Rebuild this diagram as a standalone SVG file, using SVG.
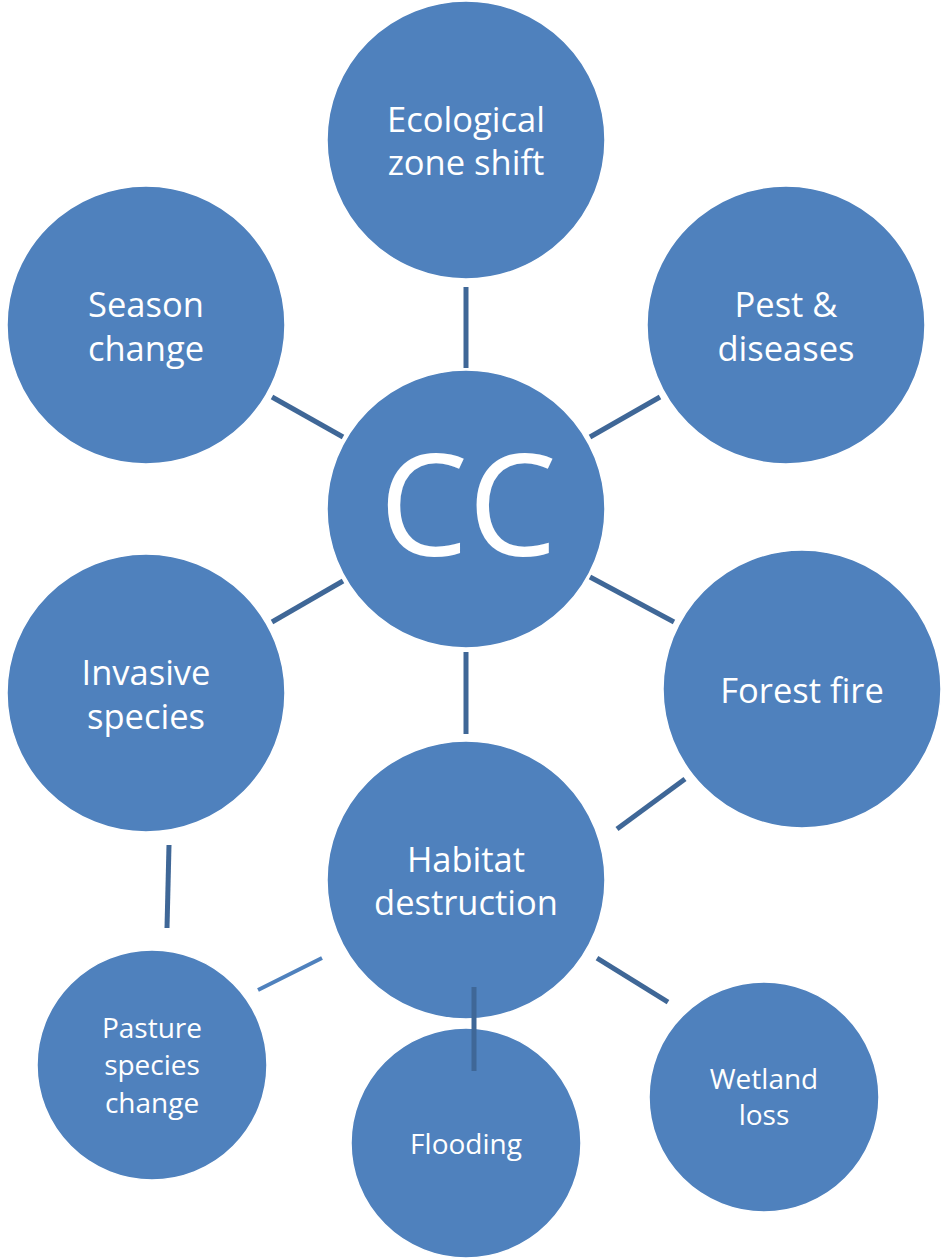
<svg xmlns="http://www.w3.org/2000/svg" width="943" height="1259" viewBox="0 0 943 1259">
<style>
.n{fill:#4F81BD;stroke:#ffffff;stroke-width:1.5}
.t{fill:#ffffff;font-family:"Open Sans","Lato",sans-serif;text-anchor:middle;dominant-baseline:central}
.l{font-size:34.5px}
.s{font-size:28px}
.c{stroke:#3F6797;stroke-width:5;fill:none}
</style>
<rect width="943" height="1259" fill="#ffffff"/>
<g id="n-eco"><circle class="n" cx="466" cy="140" r="139"/><text class="t l" x="466" y="118">Ecological</text><text class="t l" x="466" y="161">zone shift</text></g>
<g id="n-season"><circle class="n" cx="146" cy="325" r="139"/><text class="t l" x="146" y="303">Season</text><text class="t l" x="146" y="347">change</text></g>
<g id="n-pest"><circle class="n" cx="786" cy="325" r="139"/><text class="t l" x="786" y="303">Pest &amp;</text><text class="t l" x="786" y="347">diseases</text></g>
<g id="n-invasive"><circle class="n" cx="146" cy="693" r="139"/><text class="t l" x="146" y="671">Invasive</text><text class="t l" x="146" y="715">species</text></g>
<g id="n-fire"><circle class="n" cx="802" cy="689" r="139"/><text class="t l" x="802" y="689">Forest fire</text></g>
<g id="n-pasture"><circle class="n" cx="152" cy="1065" r="115"/><text class="t s" x="152" y="1027">Pasture</text><text class="t s" x="152" y="1064">species</text><text class="t s" x="152" y="1102">change</text></g>
<g id="n-wetland"><circle class="n" cx="764" cy="1097" r="115"/><text class="t s" x="764" y="1078">Wetland</text><text class="t s" x="764" y="1114">loss</text></g>
<g id="n-flood"><circle class="n" cx="466" cy="1143" r="115"/><text class="t s" x="466" y="1143">Flooding</text></g>
<g id="n-habitat"><circle class="n" cx="466" cy="880" r="139"/><text class="t l" x="466" y="858">Habitat</text><text class="t l" x="466" y="901">destruction</text></g>
<g id="n-cc"><circle class="n" cx="466" cy="509" r="139"/><text class="t" x="468" y="501" style="font-size:141px">CC</text></g>
<g id="connectors">
<line class="c" x1="466" y1="287" x2="466" y2="368"/>
<line class="c" x1="272" y1="397" x2="343" y2="437"/>
<line class="c" x1="590" y1="437" x2="660" y2="397"/>
<line class="c" x1="272" y1="622" x2="343" y2="581"/>
<line class="c" x1="590" y1="577" x2="674" y2="622"/>
<line class="c" x1="466" y1="652" x2="466" y2="734"/>
<line class="c" x1="617" y1="829" x2="685" y2="779"/>
<line class="c" x1="169" y1="845" x2="167" y2="928"/>
<line x1="258" y1="990" x2="322" y2="958" stroke="#4F81BD" stroke-width="4"/>
<line class="c" x1="597" y1="958" x2="668" y2="1002"/>
<line class="c" x1="474" y1="987" x2="474" y2="1071"/>
</g>
</svg>
